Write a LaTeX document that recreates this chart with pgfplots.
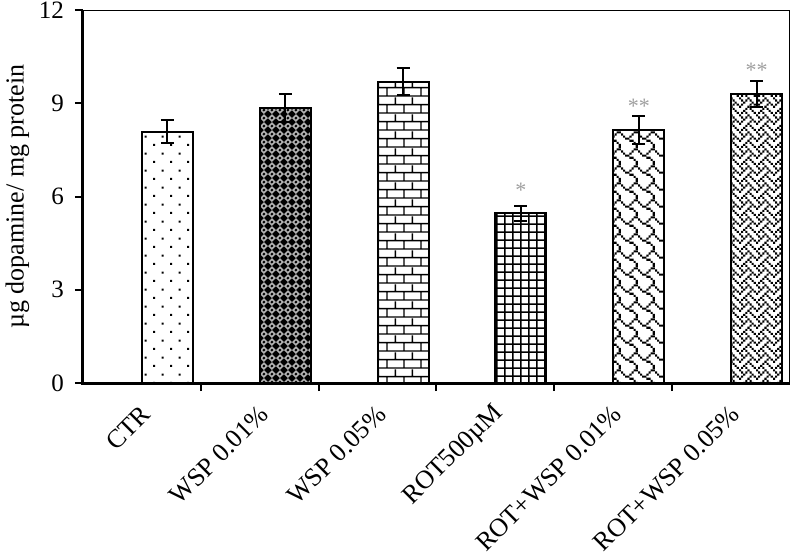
\documentclass[border=0pt]{standalone}
\usepackage{pgfplots}
\pgfplotsset{compat=1.18}
\usepackage{fontspec}
\setmainfont{Liberation Serif}
\usetikzlibrary{patterns}

\newcommand\px[2]{\pgfpathrectangle{\pgfpoint{#1*1.05pt}{#2*1.05pt}}{\pgfpoint{1.05pt}{1.05pt}}}

\pgfdeclarepatternformonly{mysparsedots}{\pgfpoint{0pt}{0pt}}{\pgfpoint{8.4pt}{8.4pt}}{\pgfpoint{8.4pt}{8.4pt}}{%
  \px{1}{1}\px{5}{5}%
  \pgfusepath{fill}}
\pgfdeclarepatternformonly{mydiamonds}{\pgfpoint{0pt}{0pt}}{\pgfpoint{4.2pt}{4.2pt}}{\pgfpoint{4.2pt}{4.2pt}}{%
  \pgfsetlinewidth{0.85pt}%
  \pgfpathmoveto{\pgfpoint{2.1pt}{0.6pt}}%
  \pgfpathlineto{\pgfpoint{3.6pt}{2.1pt}}%
  \pgfpathlineto{\pgfpoint{2.1pt}{3.6pt}}%
  \pgfpathlineto{\pgfpoint{0.6pt}{2.1pt}}%
  \pgfpathclose
  \pgfusepath{stroke}}
\pgfdeclarepatternformonly{mybricks}{\pgfpoint{0pt}{0pt}}{\pgfpoint{8.4pt}{8.4pt}}{\pgfpoint{8.4pt}{8.4pt}}{%
  \pgfsetlinewidth{0.7pt}%
  \pgfpathmoveto{\pgfpoint{0pt}{0.5pt}}\pgfpathlineto{\pgfpoint{8.4pt}{0.5pt}}%
  \pgfpathmoveto{\pgfpoint{0pt}{4.7pt}}\pgfpathlineto{\pgfpoint{8.4pt}{4.7pt}}%
  \pgfpathmoveto{\pgfpoint{0.5pt}{0.5pt}}\pgfpathlineto{\pgfpoint{0.5pt}{4.7pt}}%
  \pgfpathmoveto{\pgfpoint{4.7pt}{4.7pt}}\pgfpathlineto{\pgfpoint{4.7pt}{8.4pt}}%
  \pgfusepath{stroke}}
\pgfdeclarepatternformonly{mysmallgrid}{\pgfpoint{0pt}{0pt}}{\pgfpoint{4.2pt}{4.2pt}}{\pgfpoint{4.2pt}{4.2pt}}{%
  \pgfsetlinewidth{0.75pt}%
  \pgfpathmoveto{\pgfpoint{0pt}{1pt}}\pgfpathlineto{\pgfpoint{4.2pt}{1pt}}%
  \pgfpathmoveto{\pgfpoint{1pt}{0pt}}\pgfpathlineto{\pgfpoint{1pt}{4.2pt}}%
  \pgfusepath{stroke}}
\pgfdeclarepatternformonly{myshingle}{\pgfpoint{0pt}{0pt}}{\pgfpoint{8.4pt}{8.4pt}}{\pgfpoint{8.4pt}{8.4pt}}{%
  \px{6}{7}\px{7}{7}\px{0}{6}\px{5}{6}\px{1}{5}\px{4}{5}\px{2}{4}\px{3}{4}%
  \px{4}{3}\px{5}{3}\px{6}{2}\px{7}{1}\px{7}{0}%
  \pgfusepath{fill}}
\pgfdeclarepatternformonly{myweave}{\pgfpoint{0pt}{0pt}}{\pgfpoint{8.4pt}{8.4pt}}{\pgfpoint{8.4pt}{8.4pt}}{%
  \px{0}{7}\px{4}{7}\px{1}{6}\px{3}{6}\px{5}{6}\px{2}{5}\px{6}{5}%
  \px{1}{4}\px{5}{4}\px{7}{4}\px{0}{3}\px{4}{3}\px{3}{2}\px{5}{2}%
  \px{2}{1}\px{6}{1}\px{1}{0}\px{3}{0}\px{7}{0}%
  \pgfusepath{fill}}

\begin{document}
\begin{tikzpicture}
\begin{axis}[
  scale only axis, width=353.5pt, height=186.5pt,
  xmin=0, xmax=6, ymin=0, ymax=12,
  ytick={0,3,6,9,12},
  xtick={1,2,3,4,5}, xticklabels={,,,,},
  extra x ticks={0.717,1.717,2.717,3.717,4.717,5.717},
  extra x tick labels={CTR,WSP 0.01\%,WSP 0.05\%,ROT500µM,ROT+WSP 0.01\%,ROT+WSP 0.05\%},
  extra x tick style={major tick length=0pt,
    xticklabel style={rotate=45, anchor=east, xshift=-13.6pt, yshift=-1.8pt, font=\fontsize{13}{15}\selectfont}},
  xtick pos=bottom, ytick pos=left,
  tick align=outside, major tick length=4pt,
  tick style={line width=1pt, black},
  axis line style={line width=0.5pt},
  /pgf/number format/assume math mode=true,
  tick label style={font=\fontsize{12.5}{14}\selectfont},
  yticklabel style={xshift=-2pt},
  ylabel={µg dopamine/ mg protein},
  ylabel style={font=\fontsize{13}{15}\selectfont, yshift=-2pt},
  clip=false,
]
\addplot[ybar, bar width=25.5pt, bar shift=0pt, draw=black, line width=1pt, pattern=mysparsedots,
  error bars/.cd, y dir=both, y explicit, error bar style={line width=1pt},
  error mark options={rotate=90, mark size=3.25pt, line width=1pt}]
  coordinates {(0.717,8.08) +- (0,0.37)};
\addplot[ybar, bar width=25.5pt, bar shift=0pt, draw=black, line width=1pt, preaction={fill=black}, pattern=mydiamonds, pattern color=gray!60,
  error bars/.cd, y dir=both, y explicit, error bar style={line width=1pt},
  error mark options={rotate=90, mark size=3.25pt, line width=1pt}]
  coordinates {(1.717,8.84) +- (0,0.45)};
\addplot[ybar, bar width=25.5pt, bar shift=0pt, draw=black, line width=1pt, pattern=mybricks,
  error bars/.cd, y dir=both, y explicit, error bar style={line width=1pt},
  error mark options={rotate=90, mark size=3.25pt, line width=1pt}]
  coordinates {(2.717,9.69) +- (0,0.43)};
\addplot[ybar, bar width=25.5pt, bar shift=0pt, draw=black, line width=1pt, pattern=mysmallgrid,
  error bars/.cd, y dir=both, y explicit, error bar style={line width=1pt},
  error mark options={rotate=90, mark size=3.25pt, line width=1pt}]
  coordinates {(3.717,5.46) +- (0,0.25)};
\addplot[ybar, bar width=25.5pt, bar shift=0pt, draw=black, line width=1pt, pattern=myshingle,
  error bars/.cd, y dir=both, y explicit, error bar style={line width=1pt},
  error mark options={rotate=90, mark size=3.25pt, line width=1pt}]
  coordinates {(4.717,8.14) +- (0,0.45)};
\addplot[ybar, bar width=25.5pt, bar shift=0pt, draw=black, line width=1pt, pattern=myweave,
  error bars/.cd, y dir=both, y explicit, error bar style={line width=1pt},
  error mark options={rotate=90, mark size=3.25pt, line width=1pt}]
  coordinates {(5.717,9.30) +- (0,0.43)};
\addplot[only marks, mark=none, nodes near coords, point meta=explicit symbolic,
  every node near coord/.append style={anchor=center, yshift=-2pt, text=gray!75, font=\fontsize{11}{12}\selectfont}]
  table[meta=lab] {
x y lab
3.717 6.34 *
4.717 9.03 **
5.717 10.18 **
};
\draw[line width=1.5pt] (rel axis cs:0,1) -- (rel axis cs:0,0) -- (rel axis cs:1,0);
\end{axis}
\pgfresetboundingbox
\path[use as bounding box] (-41.5pt,-85pt) rectangle (354.5pt,191.5pt);
\end{tikzpicture}
\end{document}
